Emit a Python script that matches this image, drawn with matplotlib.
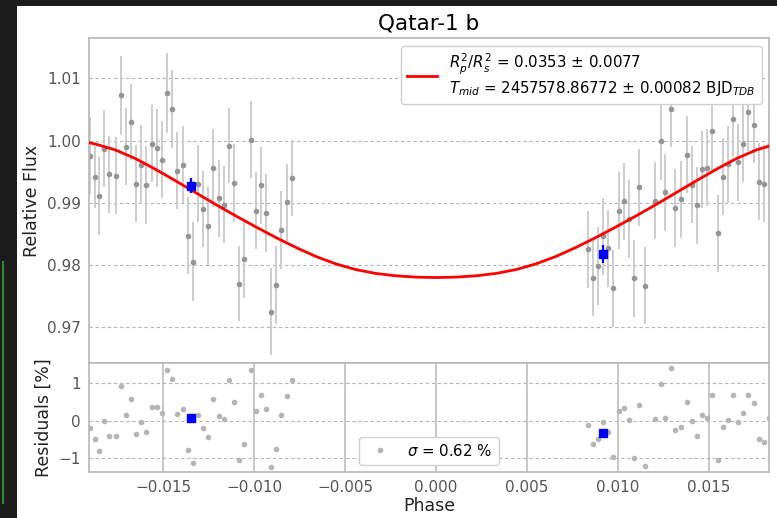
import matplotlib
matplotlib.use("Agg")
import matplotlib.pyplot as plt  # noqa: E402
from matplotlib.patches import Rectangle  # noqa: E402
from matplotlib.lines import Line2D  # noqa: E402

# --- values ---------------------------------------------------------------
phase = [
    -0.01901, -0.01874, -0.01850, -0.01823, -0.01795, -0.01760, -0.01732, -0.01705,
    -0.01677, -0.01650, -0.01623, -0.01595, -0.01562, -0.01535, -0.01505, -0.01480,
    -0.01452, -0.01425, -0.01392, -0.01361, -0.01334, -0.01306, -0.01279, -0.01251,
    -0.01224, -0.01191, -0.01163, -0.01136, -0.01108, -0.01081, -0.01053, -0.01018,
    -0.00991, -0.00963, -0.00936, -0.00908, -0.00881, -0.00853, -0.00820, -0.00791,
    0.00837, 0.00864, 0.00892, 0.00919, 0.00947, 0.00974, 0.01007, 0.01035,
    0.01062, 0.01090, 0.01117, 0.01152, 0.01207, 0.01235, 0.01262, 0.01290,
    0.01317, 0.01350, 0.01379, 0.01407, 0.01434, 0.01462, 0.01489, 0.01515,
    0.01551, 0.01579, 0.01606, 0.01634, 0.01661, 0.01688, 0.01716, 0.01749,
    0.01776, 0.01804, 0.01831,
]
flux = [
    0.99758, 0.99419, 0.99108, 0.99866, 0.99457, 0.99435, 1.00726, 0.99903,
    1.00296, 0.99301, 0.99613, 0.99285, 0.99946, 0.99882, 0.99694, 1.00769,
    1.00511, 0.99516, 0.99613, 0.98468, 0.98053, 0.99301, 0.98892, 0.98624,
    0.99559, 0.99070, 0.98968, 0.99919, 0.99317, 0.97698, 0.98092, 1.00011,
    0.98871, 0.99279, 0.98834, 0.97247, 0.97677, 0.98560, 0.99005, 0.99398,
    0.98247, 0.97795, 0.97979, 0.98463, 0.98269, 0.97624, 0.98871, 0.99021,
    0.98737, 0.97785, 0.99247, 0.97661, 0.99030, 0.99989, 0.99166, 1.00511,
    0.98914, 0.99053, 0.99769, 0.99290, 0.98957, 0.99537, 0.99559, 1.00161,
    0.98505, 0.99419, 0.99620, 1.00350, 0.99650, 0.99946, 1.00457, 1.00258,
    0.99339, 0.99301, 0.99920,
]
flux_err = [
    0.0062, 0.0050, 0.0063, 0.0062, 0.0062, 0.0062, 0.0063, 0.0062,
    0.0061, 0.0062, 0.0063, 0.0063, 0.0062, 0.0063, 0.0062, 0.0064,
    0.0063, 0.0062, 0.0062, 0.0062, 0.0063, 0.0062, 0.0061, 0.0063,
    0.0063, 0.0062, 0.0062, 0.0061, 0.0062, 0.0061, 0.0062, 0.0062,
    0.0062, 0.0062, 0.0063, 0.0070, 0.0063, 0.0062, 0.0062, 0.0061,
    0.0062, 0.0062, 0.0063, 0.0062, 0.0062, 0.0062, 0.0062, 0.0062,
    0.0062, 0.0062, 0.0062, 0.0062, 0.0062, 0.0063, 0.0062, 0.0062,
    0.0062, 0.0062, 0.0062, 0.0062, 0.0062, 0.0062, 0.0062, 0.0063,
    0.0062, 0.0062, 0.0062, 0.0062, 0.0062, 0.0062, 0.0062, 0.0062,
    0.0062, 0.0062, 0.0062,
]
residual = [
    -0.21, -0.50, -0.82, 0.00, -0.40, -0.40, 0.91, 0.15, 0.56, -0.37,
    -0.04, -0.31, 0.37, 0.37, 0.21, 1.34, 1.11, 0.18, 0.30, -0.79,
    -1.14, 0.15, -0.21, -0.43, 0.56, 0.11, 0.04, 1.07, 0.50, -1.04,
    -0.62, 1.34, 0.24, 0.69, 0.30, -1.24, -0.76, 0.15, 0.64, 1.07,
    -0.13, -0.62, -0.50, -0.04, -0.31, -0.98, 0.24, 0.34, 0.02, -1.01,
    0.41, -1.21, 0.05, 0.96, 0.07, 1.40, -0.25, -0.18, 0.50, 0.00,
    -0.40, 0.15, 0.07, 0.67, -1.04, -0.18, 0.02, 0.69, -0.04, 0.21,
    0.67, 0.47, -0.50, -0.57, 0.07,
]

bin_phase = [-0.01348, 0.00919]
bin_flux = [0.99274, 0.98173]
bin_err = [0.0012, 0.0014]
bin_residual = [0.07, -0.34]

model_phase = [
    -0.0191, -0.0187, -0.0176, -0.0165, -0.0154, -0.0143, -0.0132, -0.0121,
    -0.0110, -0.0099, -0.0088, -0.0077, -0.0066, -0.0055, -0.0044, -0.0033,
    -0.0022, -0.0011, 0.0, 0.0011, 0.0022, 0.0033, 0.0044, 0.0055,
    0.0066, 0.0077, 0.0088, 0.0099, 0.0110, 0.0121, 0.0132, 0.0143,
    0.0154, 0.0165, 0.0176, 0.0183,
]
model_flux = [
    0.99967, 0.99942, 0.99847, 0.99707, 0.99535, 0.99350, 0.99160, 0.98970,
    0.98787, 0.98610, 0.98440, 0.98280, 0.98135, 0.98015, 0.97923, 0.97861,
    0.97823, 0.97802, 0.97795, 0.97802, 0.97823, 0.97861, 0.97923, 0.98015,
    0.98135, 0.98280, 0.98440, 0.98610, 0.98787, 0.98970, 0.99160, 0.99350,
    0.99535, 0.99707, 0.99847, 0.99910,
]

fit_label = ("$R^2_p/R^2_s$ = 0.0353 ± 0.0077\n"
             "$T_{mid}$ = 2457578.86772 ± 0.00082 BJD$_{TDB}$")
sigma_label = r"$\sigma$ = 0.62 %"

# --- figure ---------------------------------------------------------------
W, H = 777, 518
fig = plt.figure(figsize=(W / 100, H / 100), dpi=100, facecolor="#1c1c1c")
fig.add_artist(Rectangle((17 / W, 0), 1 - 17 / W, 1 - 6 / H,
                         transform=fig.transFigure, facecolor="white",
                         edgecolor="none", zorder=-5))
fig.add_artist(Line2D([3 / W, 3 / W], [1 - 262 / H, 1 - 503 / H],
                      transform=fig.transFigure, color="#2e8b2e", lw=1.5))

left, right = 89 / W, 769 / W
ax = fig.add_axes([left, 1 - 363 / H, right - left, (363 - 38) / H])
axr = fig.add_axes([left, 1 - 472 / H, right - left, (472 - 363) / H],
                   sharex=ax)

grid_kw = dict(color="#b5b5b5", lw=0.8, ls=(0, (3, 2.5)))
for a in (ax, axr):
    for s in a.spines.values():
        s.set_color("#b8b8b8")
        s.set_linewidth(1.2)
    a.tick_params(length=0, labelsize=11, labelcolor="#555555", pad=6)
    a.set_axisbelow(True)

# top panel: light curve
ax.errorbar(phase, flux, yerr=flux_err, fmt="o", ms=3, color="#959595",
            ecolor="#cdcdcd", elinewidth=1.4, zorder=2)
fit_line, = ax.plot(model_phase, model_flux, color="red", lw=2, zorder=4)
ax.errorbar(bin_phase, bin_flux, yerr=bin_err, fmt="s", ms=6, color="blue",
            ecolor="blue", elinewidth=1.6, zorder=5)
ax.set_xlim(-0.01907, 0.01831)
ax.set_ylim(0.9642, 1.0165)
ax.set_yticks([0.97, 0.98, 0.99, 1.00, 1.01])
ax.grid(axis="y", **grid_kw)
ax.tick_params(labelbottom=False)
ax.set_title("Qatar-1 b", fontsize=15.5, pad=6)
ax.set_ylabel("Relative Flux", fontsize=12.5, color="#222222")
leg = ax.legend([fit_line], [fit_label], loc="upper right", fontsize=10.8,
                framealpha=1, edgecolor="#d0d0d0", handlelength=2.0)

# bottom panel: residuals
axr.plot(phase, residual, "o", ms=3, color="#b5b5b5", label=sigma_label,
         zorder=2)
axr.plot(bin_phase, bin_residual, "s", ms=6, color="blue", zorder=3)
axr.set_ylim(-1.37, 1.53)
axr.set_yticks([-1, 0, 1])
axr.set_xticks([-0.015, -0.010, -0.005, 0.0, 0.005, 0.010, 0.015])
axr.grid(axis="y", **grid_kw)
axr.grid(axis="x", color="#bdbdbd", lw=1.2, ls="-")
axr.set_xlabel("Phase", fontsize=12.5, color="#222222", labelpad=1)
axr.set_ylabel("Residuals [%]", fontsize=12.5, color="#222222")
axr.legend(loc="lower center", fontsize=10.8, framealpha=1,
           edgecolor="#d0d0d0", handlelength=2.0)

fig.savefig("out.png", dpi=100, facecolor=fig.get_facecolor())
